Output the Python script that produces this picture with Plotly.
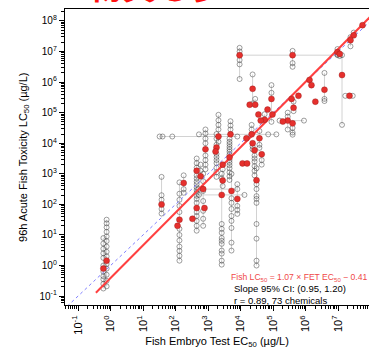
import numpy as np
import plotly.graph_objects as go

# All values are log10(µg/L)
# geometric-mean point per chemical (red)
red_fet = [7.75, 7.48, 7.38, 6.98, 7.05, 3.97, 5.6, 7.12, 6.58, 7.35,
           6.12, 6.18, 5.78, 5.57, 6.3, 4.37, 4.28, 4.45, 4.95, 4.83,
           4.98, 4.74, 4.62, 4.55, 5.63, 5.45, 5.6, 5.3, 4.18, 4.34,
           4.37, 4.43, 4.58, 4.65, 4.06, 4.2, 4.49, 3.32, 3.26, 3.23,
           2.92, 3.69, 3.66, 3.45, 3.45, 3.42, 3.72, 3.9, 2.85, 2.89,
           2.77, 2.65, 2.65, 2.52, 2.25, 2.12, 2.06, 1.57, -0.12, -0.22]
red_lc50 = [7.86, 7.53, 7.37, 6.98, 6.92, 6.88, 6.88, 6.23, 5.75, 5.55,
            6.07, 5.9, 5.55, 5.45, 5.36, 5.78, 5.26, 5.26, 5.45, 5.1,
            4.94, 4.77, 4.74, 4.94, 5.16, 4.74, 4.65, 4.71, 4.16, 4.29,
            4.0, 3.77, 4.16, 3.64, 3.34, 3.34, 2.79, 4.22, 3.86, 3.73,
            3.8, 4.29, 3.54, 3.3, 2.78, 2.31, 2.44, 2.18, 2.5, 1.88,
            2.92, 3.1, 1.88, 1.53, 2.7, 1.5, 1.3, 2.0, 0.16, -0.1]

# individual LC50 test values (grey, vertical at the chemical's FET mean)
lc50_tests = [
    [], [7.62], [7.47, 7.17], [7.08, 6.9], [6.85],
    [7.12, 7.0, 6.72, 6.58, 6.1], [7.02, 6.62, 6.5], [6.88, 4.6], [6.3, 5.45, 5.38], [],
    [], [], [], [], [],
    [6.25, 5.3], [], [5.45], [5.9, 5.65, 4.7], [],
    [], [4.95], [], [], [5.36, 5.05],
    [5.0, 4.87, 4.45], [4.5, 4.35, 4.28], [], [], [4.6, 4.45],
    [3.9, 3.8], [3.6, 3.5, 3.4, 3.25, 3.1, 2.95], [4.4, 3.95, 3.85], [3.45, 3.3], [],
    [], [3.18, 2.66, 2.5, 2.27, 2.18, 2.05, 1.36, 0.88, 0.16, 0.0],
    [4.93, 4.75, 4.6, 4.45, 4.05], [4.3, 4.15, 3.95, 3.65, 3.55, 3.45, 3.35, 3.2, 3.05, 2.9], [],
    [4.45, 4.32, 4.15, 4.0, 3.6, 3.45, 3.3, 3.15], [4.72, 4.58, 4.45],
    [4.15, 4.05, 3.97, 3.88, 3.8, 3.72, 3.63, 3.45, 3.37, 3.28, 3.18, 3.05, 2.92, 2.8],
    [], [3.15, 2.6],
    [3.0, 2.85, 1.36, 1.2, 1.07, 0.9, 0.81, 0.71, 0.49, 0.39, 0.16, 0.03],
    [3.0, 2.2, 2.05, 1.85, 1.62, 1.46, 1.23, 0.75, 0.49],
    [2.66, 1.95, 1.82, 1.69],
    [3.0, 2.76, 2.44, 2.11, 1.79, 1.53, 1.3], [],
    [3.3, 3.1], [3.5, 3.35, 3.2, 2.95, 2.85, 2.75],
    [2.66, 2.56, 2.47, 2.38, 2.28, 2.18, 2.05, 1.75, 1.62, 1.46, 1.3, 1.14], [],
    [2.95, 2.5, 2.38],
    [2.72, 2.35, 2.15, 1.95, 1.75, 1.2, 1.0, 0.82, 0.62, 0.48, 0.32, 0.16], [],
    [2.9, 2.3, 2.15, 1.85, 1.7],
    [1.5, 1.38, 1.25, 1.1, 0.95, 0.8, 0.62, 0.45, 0.3, 0.05, -0.1, -0.3, -0.5, -0.68],
    [0.9, 0.72, 0.55, 0.4, 0.25, 0.0, -0.2, -0.35, -0.45, -0.6, -0.75],
]
# individual FET test values (grey, horizontal at the chemical's LC50 mean)
fet_tests = [[] for _ in red_fet]
fet_tests[6] = [3.97, 6.98]
fet_tests[9] = [7.22, 7.45]
fet_tests[25] = [5.2, 5.95]
fet_tests[29] = [2.72, 4.85, 5.1]
fet_tests[37] = [1.51, 1.6, 1.9, 3.9]
fet_tests[45] = [2.72, 4.12]
fet_tests[48] = [2.7, 3.9]

fit_slope = 1.07
fit_intercept = -0.41
fit_fet_range = [-0.45, 8.3]
identity_range = [-1.6, 8.6]

x_tick_exp = [-1, 0, 1, 2, 3, 4, 5, 6, 7, 8]
y_tick_exp = [-1, 0, 1, 2, 3, 4, 5, 6, 7, 8]

# ---------- build traces ----------
p = lambda v: 10.0 ** np.asarray(v, dtype=float)

seg_x, seg_y = [], []
gx, gy = [], []
for fx, ly, lc, ft in zip(red_fet, red_lc50, lc50_tests, fet_tests):
    if lc:
        vals = lc + [ly]
        seg_x += [fx, fx, None]
        seg_y += [min(vals), max(vals), None]
        gx += [fx] * len(lc)
        gy += lc
    if ft:
        vals = ft + [fx]
        seg_x += [min(vals), max(vals), None]
        seg_y += [ly, ly, None]
        gx += ft
        gy += [ly] * len(ft)

def conv(a):
    return [None if v is None else 10.0 ** v for v in a]

fig = go.Figure()
fig.add_trace(go.Scatter(x=conv(seg_x), y=conv(seg_y), mode="lines",
                         line=dict(color="#d2d2d2", width=1), hoverinfo="skip"))
fig.add_trace(go.Scatter(x=p(gx), y=p(gy), mode="markers",
                         marker=dict(symbol="circle-open", size=5, color="rgba(60,60,60,0.7)",
                                     line=dict(width=0.7))))
fig.add_trace(go.Scatter(x=p(identity_range), y=p(identity_range), mode="lines",
                         line=dict(color="#8080ff", width=1, dash="3px,3px")))
fx_line = np.array(fit_fet_range)
fig.add_trace(go.Scatter(x=p(fx_line), y=p(fit_slope * fx_line + fit_intercept), mode="lines",
                         line=dict(color="#ff4040", width=2)))
fig.add_trace(go.Scatter(x=p(red_fet), y=p(red_lc50), mode="markers",
                         marker=dict(symbol="circle", size=6, color="#e5302d",
                                     line=dict(color="rgba(140,20,20,0.6)", width=0.6))))

def sup_labels(exps):
    return ["10<sup>%d</sup>" % e for e in exps]

axis_common = dict(type="log", showline=True, linecolor="black", linewidth=1.3,
                   ticks="outside", ticklen=5, tickwidth=1, tickcolor="black",
                   showgrid=False, zeroline=False,
                   minor=dict(ticks="outside", ticklen=3, tickwidth=0.8, tickcolor="black",
                              dtick="D1", showgrid=False),
                   tickfont=dict(family="Liberation Sans, Arial", size=11, color="black"),
                   title_font=dict(family="Liberation Sans, Arial", size=11, color="black"))

fig.update_layout(
    width=369, height=349,
    margin=dict(l=65, r=0, t=9, b=44),
    paper_bgcolor="white", plot_bgcolor="white",
    showlegend=False,
    xaxis=dict(axis_common, range=[-1.4, 7.95], mirror=True,
               tickvals=p(x_tick_exp), ticktext=sup_labels(x_tick_exp), tickangle=-90,
               title=dict(text="Fish Embryo Test EC<sub>50</sub> (µg/L)", standoff=4)),
    yaxis=dict(axis_common, range=[-1.29, 8.39], mirror=False,
               tickfont=dict(family="Liberation Sans, Arial", size=10, color="black"),
               tickvals=p(y_tick_exp), ticktext=sup_labels(y_tick_exp)),
    annotations=[
        dict(text="96h Acute Fish Toxicity LC<sub>50</sub> (µg/L)", xref="paper", yref="paper",
             x=-0.135, y=0.5, xanchor="center", yanchor="middle", textangle=-90, showarrow=False,
             font=dict(family="Liberation Sans, Arial", size=11, color="black")),
        dict(text="Fish LC<sub>50</sub> = 1.07 × FET EC<sub>50</sub> − 0.41", xref="paper", yref="paper",
             x=0.999, y=0.093, xanchor="right", yanchor="middle", showarrow=False,
             font=dict(family="Liberation Sans, Arial", size=8.6, color="#f04848")),
        dict(text="Slope 95% CI: (0.95, 1.20)", xref="paper", yref="paper",
             x=0.549, y=0.055, xanchor="left", yanchor="middle", showarrow=False,
             font=dict(family="Liberation Sans, Arial", size=9.5, color="black")),
        dict(text="r = 0.89, 73 chemicals", xref="paper", yref="paper",
             x=0.549, y=0.016, xanchor="left", yanchor="middle", showarrow=False,
             font=dict(family="Liberation Sans, Arial", size=9.5, color="black")),
        dict(text="<b>物質も多い</b>", xref="paper", yref="paper",
             x=0.355, y=1, xanchor="center", yanchor="bottom", yshift=-2, showarrow=False,
             font=dict(family="Noto Sans CJK JP", size=34, color="#ff1010")),
    ],
)

fig.write_html("out.html")
